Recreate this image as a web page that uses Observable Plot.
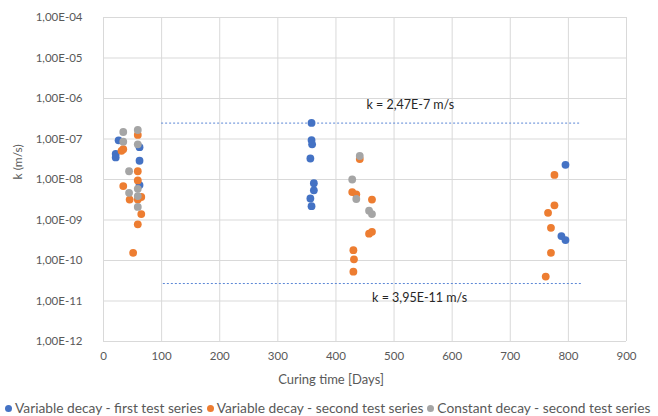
<!DOCTYPE html>
<html><head><meta charset="utf-8">
<script src="https://cdn.jsdelivr.net/npm/d3@7"></script>
<script src="https://cdn.jsdelivr.net/npm/@observablehq/plot@0.6"></script>
<style>
html,body{margin:0;padding:0;background:#fff;}
body{width:658px;height:416px;overflow:hidden;font-family:Lato,"Open Sans",sans-serif;}
#chart svg{display:block;}
#legend{display:flex;align-items:center;gap:4px;padding-left:5px;height:18px;font-size:13.75px;color:#595959;white-space:nowrap;}
#legend .dot{display:inline-block;width:7px;height:7px;border-radius:50%;margin-right:3px;vertical-align:middle;position:relative;top:-1px;}
</style></head><body>
<div id="chart"></div>
<div id="legend"></div>
<script>
// ---- data ----
const seriesNames = ["Variable decay - first test series", "Variable decay - second test series", "Constant decay - second test series"];
const seriesColors = ["#4472C4", "#ED7D31", "#A5A5A5"];

const blueDays = [26, 62, 21, 21, 62, 62, 358, 358, 359, 356, 362, 362, 356, 358, 788, 795, 795];
const blueK    = [9.3e-8, 6.3e-8, 4.3e-8, 3.5e-8, 2.9e-8, 7.3e-9, 2.5e-7, 9.4e-8, 7.4e-8, 3.3e-8, 8.1e-9, 5.4e-9, 3.4e-9, 2.2e-9, 4.0e-10, 3.2e-10, 2.3e-8];

const orangeDays = [59, 34, 31, 59, 59, 34, 45, 59, 65, 65, 59, 51,
                    441, 428, 435, 462, 457, 462, 430, 431, 430,
                    776, 776, 765, 770, 770, 761];
const orangeK    = [1.26e-7, 5.6e-8, 5.1e-8, 1.6e-8, 9.5e-9, 6.9e-9, 3.2e-9, 3.2e-9, 3.7e-9, 1.4e-9, 7.8e-10, 1.55e-10,
                    3.2e-8, 4.9e-9, 4.3e-9, 3.2e-9, 4.6e-10, 5.1e-10, 1.8e-10, 1.07e-10, 5.3e-11,
                    1.3e-8, 2.3e-9, 1.5e-9, 6.4e-10, 1.55e-10, 4.0e-11];

const grayDays = [34, 59, 34, 59, 44, 59, 44, 59, 59, 441, 428, 435, 457, 462];
const grayK    = [1.49e-7, 1.67e-7, 8.6e-8, 7.4e-8, 1.6e-8, 5.9e-9, 4.7e-9, 3.9e-9, 2.1e-9, 3.8e-8, 1.0e-8, 3.3e-9, 1.7e-9, 1.4e-9];

const xTicks = [0, 100, 200, 300, 400, 500, 600, 700, 800, 900];
const yTicks = [1e-12, 1e-11, 1e-10, 1e-9, 1e-8, 1e-7, 1e-6, 1e-5, 1e-4];
const yTickLabels = ["1,00E-12", "1,00E-11", "1,00E-10", "1,00E-09", "1,00E-08", "1,00E-07", "1,00E-06", "1,00E-05", "1,00E-04"];

// reference lines: drawn level, start day, end day, label text, label day, label k
const refK      = [2.47e-7, 2.7e-11];
const refStart  = [100, 103];
const refEnd    = [822, 824];
const refLabels = ["k = 2,47E-7 m/s", "k = 3,95E-11 m/s"];
const refLabelDay = [528, 544];
const refLabelK   = [6.9e-7, 1.22e-11];

// ---- build tables ----
const pts = [];
[[blueDays, blueK], [orangeDays, orangeK], [grayDays, grayK]].forEach(([d, k], i) => {
  d.forEach((day, j) => pts.push({series: seriesNames[i], day, k: k[j]}));
});
const refs = refK.map((k, i) => ({k, x1: refStart[i], x2: refEnd[i], label: refLabels[i], lx: refLabelDay[i], ly: refLabelK[i]}));
const tickLabel = new Map(yTicks.map((t, i) => [t, yTickLabels[i]]));

const chart = Plot.plot({
  width: 658,
  height: 398,
  marginLeft: 103,
  marginRight: 32,
  marginTop: 17,
  marginBottom: 57,
  style: {fontFamily: "Lato, 'Open Sans', sans-serif", fontSize: "11.5px", color: "#595959", background: "#fff"},
  x: {domain: [0, 900], ticks: xTicks, label: null},
  y: {type: "log", domain: [1e-12, 1e-4], ticks: yTicks, label: null},
  color: {domain: seriesNames, range: seriesColors},
  marks: [
    Plot.ruleX(xTicks, {stroke: "#d9d9d9", strokeWidth: 1}),
    Plot.ruleY(yTicks, {stroke: "#d9d9d9", strokeWidth: 1}),
    Plot.axisX({ticks: xTicks, tickSize: 0, tickPadding: 10, fill: "#595959", label: null}),
    Plot.axisY({ticks: yTicks, tickSize: 0, tickPadding: 21, fill: "#595959", label: null, tickFormat: d => tickLabel.get(d)}),
    Plot.ruleY(refs, {y: "k", x1: "x1", x2: "x2", stroke: "#5B87D6", strokeWidth: 1, strokeDasharray: "2,2"}),
    Plot.text(refs, {x: "lx", y: "ly", text: "label", fill: "#262626", fontSize: 12.5}),
    Plot.dot(pts, {x: "day", y: "k", fill: "series", r: 3.9, stroke: "none"}),
    Plot.text(["Curing time [Days]"], {frameAnchor: "bottom", dx: -34, dy: 42, text: d => d, fill: "#595959", fontSize: 13}),
    Plot.text(["k (m/s)"], {frameAnchor: "left", dx: -85, rotate: -90, text: d => d, fill: "#595959", fontSize: 12})
  ]
});
document.getElementById("chart").appendChild(chart);

const lg = document.getElementById("legend");
seriesNames.forEach((n, i) => {
  const s = document.createElement("span");
  s.innerHTML = `<span class="dot" style="background:${seriesColors[i]}"></span>${n}`;
  lg.appendChild(s);
});
</script>
</body></html>
